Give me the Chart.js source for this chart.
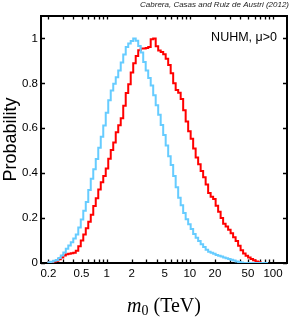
<!DOCTYPE html>
<html>
<head>
<meta charset="utf-8">
<script src="https://cdn.jsdelivr.net/npm/chart.js@4.4.1/dist/chart.umd.min.js"></script>
<style>
  html, body { margin: 0; padding: 0; background: #fff; }
  canvas { display: block; }
</style>
</head>
<body>
<canvas id="m0Chart" width="291" height="318"></canvas>
<script>
// histogram bins are equal steps in log10(m0 / TeV), first edge at 0.2 TeV
const logEdgeFirst = -0.7;
const logBinWidth = 0.03;

// light blue curve
const cyanProb = [
  0, 0.003, 0.006, 0.01, 0.013, 0.022, 0.033, 0.047, 0.063, 0.078,
  0.092, 0.109, 0.127, 0.158, 0.194, 0.233, 0.272, 0.325, 0.375, 0.418,
  0.463, 0.513, 0.562, 0.612, 0.669, 0.725, 0.768, 0.798, 0.827, 0.857,
  0.893, 0.929, 0.962, 0.978, 0.989, 1.0, 0.99, 0.966, 0.937, 0.895,
  0.857, 0.824, 0.79, 0.747, 0.703, 0.66, 0.615, 0.57, 0.523, 0.475,
  0.436, 0.387, 0.337, 0.291, 0.257, 0.223, 0.195, 0.173, 0.151, 0.129,
  0.112, 0.098, 0.084, 0.071, 0.059, 0.05, 0.046, 0.041, 0.036, 0.032,
  0.029, 0.025, 0.021, 0.018, 0.014, 0.011, 0.007, 0.004, 0.002, 0,
  0, 0, 0, 0, 0, 0, 0, 0
];

// red curve
const redProb = [
  0.002, 0.003, 0.005, 0.007, 0.01, 0.017, 0.025, 0.033, 0.039, 0.041,
  0.043, 0.046, 0.055, 0.075, 0.1, 0.127, 0.155, 0.184, 0.215, 0.254,
  0.288, 0.327, 0.36, 0.388, 0.421, 0.464, 0.503, 0.537, 0.582, 0.614,
  0.645, 0.70, 0.757, 0.796, 0.848, 0.89, 0.922, 0.948, 0.955, 0.955,
  0.958, 0.962, 0.997, 1.0, 0.965, 0.946, 0.94, 0.93, 0.91, 0.882,
  0.845, 0.80, 0.771, 0.758, 0.73, 0.68, 0.63, 0.587, 0.553, 0.51,
  0.47, 0.44, 0.41, 0.382, 0.35, 0.312, 0.295, 0.285, 0.255, 0.228,
  0.2, 0.175, 0.163, 0.148, 0.132, 0.115, 0.098, 0.077, 0.057, 0.042,
  0.032, 0.025, 0.018, 0.012, 0.007, 0.003, 0, 0
];

const xTicks = [
  0.2, 0.3, 0.4, 0.5, 0.6, 0.7, 0.8, 0.9,
  1, 2, 3, 4, 5, 6, 7, 8, 9,
  10, 20, 30, 40, 50, 60, 70, 80, 90, 100
];
const xTickLabels = [0.2, 0.5, 1, 2, 5, 10, 20, 50, 100];
const yTicks = [0, 0.2, 0.4, 0.6, 0.8, 1];

const sans = '"Liberation Sans", Arial, Helvetica, sans-serif';
const serif = '"Liberation Serif", "Times New Roman", serif';

// turn bin values into step points at the left bin edges (+ closing edge)
function toSteps(values) {
  const pts = values.map((v, i) => ({ x: Math.pow(10, logEdgeFirst + i * logBinWidth), y: v }));
  pts.push({ x: Math.pow(10, logEdgeFirst + values.length * logBinWidth), y: values[values.length - 1] });
  return pts;
}

// box frame with ticks pointing inwards, like the original figure
const frameTicks = {
  id: 'frameTicks',
  beforeDatasetsDraw(chart) {
    const { ctx, chartArea: a, scales: { x, y } } = chart;
    ctx.save();
    ctx.strokeStyle = '#000';
    ctx.lineWidth = 1.3;
    ctx.beginPath();
    xTicks.forEach(v => {
      const px = Math.round(x.getPixelForValue(v)) + 0.5;
      ctx.moveTo(px, a.bottom); ctx.lineTo(px, a.bottom - 3.5);
      ctx.moveTo(px, a.top); ctx.lineTo(px, a.top + 3.5);
    });
    yTicks.forEach(v => {
      const py = Math.round(y.getPixelForValue(v)) + 0.5;
      ctx.moveTo(a.left, py); ctx.lineTo(a.left + 4, py);
      ctx.moveTo(a.right, py); ctx.lineTo(a.right - 4, py);
    });
    ctx.stroke();
    ctx.lineWidth = 2;
    ctx.strokeRect(a.left, a.top, a.right - a.left, a.bottom - a.top);
    ctx.restore();
  },
  afterDraw(chart) {
    const { ctx, chartArea: a } = chart;
    ctx.save();
    ctx.fillStyle = '#222';
    ctx.font = 'italic 8px ' + sans;
    ctx.textAlign = 'right';
    ctx.textBaseline = 'middle';
    ctx.fillText('Cabrera, Casas and Ruiz de Austri (2012)', 289, 5);

    ctx.fillStyle = '#000';
    ctx.font = '12.5px ' + sans;
    ctx.fillText('NUHM, \u03bc>0', a.right - 10, 38);

    // x axis title: italic m, subscript 0, then (TeV)
    ctx.textAlign = 'left';
    ctx.textBaseline = 'alphabetic';
    const base = 312;
    ctx.font = 'italic 20px ' + serif;
    const wM = ctx.measureText('m').width;
    ctx.font = '14px ' + serif;
    const w0 = ctx.measureText('0').width;
    ctx.font = '20px ' + serif;
    const wRest = ctx.measureText(' (TeV)').width;
    let cx = (a.left + a.right) / 2 - (wM + w0 + wRest) / 2;
    ctx.font = 'italic 20px ' + serif;
    ctx.fillText('m', cx, base);
    cx += wM;
    ctx.font = '14px ' + serif;
    ctx.fillText('0', cx, base + 3);
    cx += w0;
    ctx.font = '20px ' + serif;
    ctx.fillText(' (TeV)', cx, base);
    ctx.restore();
  }
};

const ctx = document.getElementById('m0Chart').getContext('2d');
new Chart(ctx, {
  type: 'line',
  data: {
    datasets: [
      {
        label: 'cyan',
        data: toSteps(cyanProb),
        borderColor: '#66ccff',
        borderWidth: 2,
        stepped: 'after',
        pointRadius: 0,
        fill: false,
      },
      {
        label: 'red',
        data: toSteps(redProb),
        borderColor: '#ff0000',
        borderWidth: 2,
        stepped: 'after',
        pointRadius: 0,
        fill: false,
      },
    ],
  },
  options: {
    responsive: false,
    animation: false,
    devicePixelRatio: 1,
    layout: { padding: { top: 16, right: 4, bottom: 0, left: 0 } },
    plugins: {
      legend: { display: false },
      tooltip: { enabled: false },
    },
    scales: {
      x: {
        type: 'logarithmic',
        min: 0.163,
        max: 147,
        afterBuildTicks: scale => { scale.ticks = xTicks.map(v => ({ value: v })); },
        afterFit: scale => { scale.height = 55; },
        grid: { display: false, drawTicks: false },
        border: { display: false },
        ticks: {
          autoSkip: false,
          maxRotation: 0,
          padding: 4,
          color: '#000',
          font: { family: sans, size: 11.5 },
          callback: v => (xTickLabels.includes(v) ? String(v) : ''),
        },
      },
      y: {
        min: 0,
        max: 1.1,
        afterBuildTicks: scale => { scale.ticks = yTicks.map(v => ({ value: v })); },
        afterFit: scale => { scale.width = 41; },
        grid: { display: false, drawTicks: false },
        border: { display: false },
        ticks: {
          padding: 3,
          color: '#000',
          font: { family: sans, size: 11.5 },
          callback: v => String(v),
        },
        title: {
          display: true,
          text: 'Probability',
          color: '#000',
          padding: 0,
          font: { family: sans, size: 18 },
        },
      },
    },
  },
  plugins: [frameTicks],
});
</script>
</body>
</html>
